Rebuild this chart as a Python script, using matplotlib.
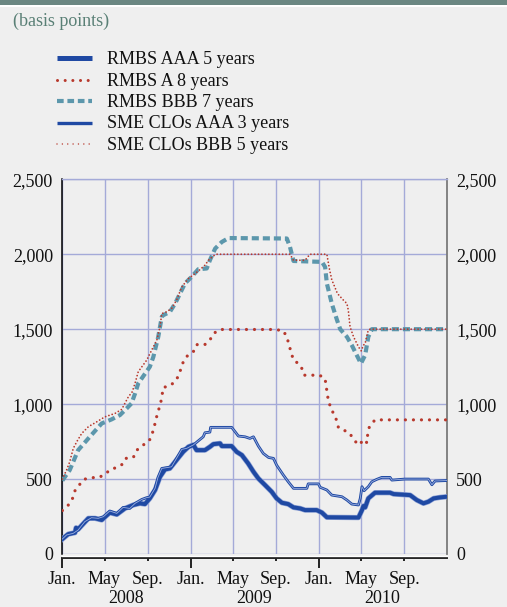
import matplotlib
matplotlib.use("Agg")
import matplotlib.pyplot as plt
import matplotlib.dates as mdates
from matplotlib.lines import Line2D
from matplotlib.patches import Rectangle
import pandas as pd

plt.rcParams['font.family'] = ['Liberation Serif', 'DejaVu Serif']

# ---------------- data (basis points) ----------------
rmbs_aaa_dates = ['2008-01-02', '2008-01-19', '2008-02-07', '2008-02-10', '2008-02-16', '2008-03-16',
                  '2008-04-04', '2008-04-23', '2008-05-16', '2008-06-05', '2008-06-28', '2008-07-22',
                  '2008-08-10', '2008-08-24', '2008-09-07', '2008-09-22', '2008-10-06', '2008-10-20',
                  '2008-11-03', '2008-11-22', '2008-12-11', '2008-12-26', '2009-01-09', '2009-01-18',
                  '2009-02-11', '2009-02-25', '2009-03-07', '2009-03-26', '2009-03-31', '2009-04-28',
                  '2009-05-12', '2009-05-27', '2009-06-14', '2009-06-29', '2009-07-13', '2009-08-01',
                  '2009-08-20', '2009-09-03', '2009-09-18', '2009-10-06', '2009-10-21', '2009-11-09',
                  '2009-11-23', '2009-12-26', '2010-01-10', '2010-01-24', '2010-04-24', '2010-05-04',
                  '2010-05-08', '2010-05-13', '2010-05-22', '2010-06-10', '2010-07-23', '2010-08-02',
                  '2010-09-18', '2010-10-07', '2010-10-26', '2010-11-09', '2010-11-24', '2010-12-13',
                  '2010-12-31']
rmbs_aaa_vals = [100, 133, 142, 175, 165, 238,
                 238, 227, 276, 264, 304, 327,
                 338, 333, 371, 427, 515, 564,
                 571, 627, 682, 715, 728, 693,
                 693, 715, 733, 738, 720, 720,
                 682, 660, 604, 549, 504, 460,
                 415, 371, 342, 333, 311, 304,
                 293, 293, 276, 245, 243, 293,
                 320, 311, 371, 409, 409, 400,
                 393, 360, 338, 349, 371, 378,
                 382]

rmbs_a_dates = ['2008-01-02', '2008-01-21', '2008-01-31', '2008-02-07', '2008-02-19', '2008-03-03',
                '2008-03-23', '2008-04-16', '2008-05-02', '2008-05-19', '2008-06-05', '2008-06-22',
                '2008-07-01', '2008-07-22', '2008-08-01', '2008-08-19', '2008-09-05', '2008-09-14',
                '2008-09-20', '2008-09-25', '2008-10-01', '2008-10-08', '2008-10-12', '2008-10-15',
                '2008-11-03', '2008-11-20', '2008-11-30', '2008-12-07', '2008-12-14', '2008-12-29',
                '2009-01-14', '2009-01-20', '2009-02-11', '2009-02-25', '2009-03-07', '2009-03-26',
                '2009-08-30', '2009-09-22', '2009-10-02', '2009-10-08', '2009-10-14', '2009-10-21',
                '2009-11-04', '2009-11-12', '2009-11-20', '2010-01-03', '2010-01-19', '2010-01-22',
                '2010-01-26', '2010-01-28', '2010-02-07', '2010-02-12', '2010-02-21', '2010-02-26',
                '2010-03-17', '2010-03-29', '2010-04-10', '2010-04-24', '2010-05-04', '2010-05-10',
                '2010-05-18', '2010-05-20', '2010-05-25', '2010-06-10', '2010-12-31']
rmbs_a_vals = [290, 331, 371, 422, 460, 498,
               509, 511, 533, 564, 578, 600,
               638, 644, 693, 727, 753, 804,
               853, 904, 953, 1009, 1060, 1111,
               1122, 1155, 1202, 1256, 1298, 1338,
               1358, 1398, 1398, 1427, 1471, 1498,
               1498, 1489, 1449, 1398, 1347, 1293,
               1271, 1250, 1193, 1193, 1171, 1115,
               1067, 1011, 975, 927, 893, 842,
               822, 809, 765, 727, 749, 765,
               742, 793, 849, 895, 895]

rmbs_bbb_dates = ['2008-01-02', '2008-01-23', '2008-02-16', '2008-03-16', '2008-04-23', '2008-05-21',
                  '2008-06-14', '2008-07-03', '2008-07-17', '2008-07-27', '2008-08-05', '2008-09-07',
                  '2008-09-17', '2008-10-01', '2008-10-11', '2008-10-15', '2008-11-03', '2008-11-18',
                  '2008-12-02', '2008-12-16', '2009-01-04', '2009-01-23', '2009-02-16', '2009-02-25',
                  '2009-03-12', '2009-03-31', '2009-04-19', '2009-10-02', '2009-10-11', '2009-10-21',
                  '2010-01-10', '2010-01-19', '2010-01-24', '2010-02-07', '2010-02-22', '2010-03-03',
                  '2010-03-22', '2010-04-05', '2010-04-19', '2010-05-01', '2010-05-13', '2010-05-22',
                  '2010-06-01', '2010-12-31']
rmbs_bbb_vals = [490, 560, 693, 771, 871, 898,
                 927, 971, 1005, 1071, 1138, 1249,
                 1315, 1449, 1582, 1593, 1615, 1671,
                 1738, 1805, 1849, 1900, 1905, 1960,
                 2038, 2082, 2108, 2105, 2049, 1955,
                 1949, 1915, 1805, 1671, 1560, 1500,
                 1449, 1393, 1327, 1271, 1327, 1449,
                 1500, 1500]

sme_aaa_dates = ['2008-01-02', '2008-01-14', '2008-02-02', '2008-02-16', '2008-03-06', '2008-03-25',
                 '2008-04-13', '2008-04-28', '2008-05-16', '2008-06-05', '2008-06-23', '2008-07-12',
                 '2008-07-27', '2008-08-15', '2008-08-29', '2008-09-07', '2008-09-22', '2008-09-30',
                 '2008-10-11', '2008-10-30', '2008-11-08', '2008-11-22', '2008-12-07', '2008-12-21',
                 '2009-01-09', '2009-02-06', '2009-02-11', '2009-02-25', '2009-02-27', '2009-04-28',
                 '2009-05-08', '2009-05-17', '2009-06-05', '2009-06-19', '2009-06-29', '2009-07-13',
                 '2009-07-27', '2009-08-11', '2009-08-25', '2009-09-03', '2009-09-22', '2009-10-06',
                 '2009-10-21', '2009-11-28', '2009-12-02', '2009-12-31', '2010-01-05', '2010-01-24',
                 '2010-02-07', '2010-03-08', '2010-03-22', '2010-04-05', '2010-04-24', '2010-04-29',
                 '2010-05-04', '2010-05-10', '2010-05-22', '2010-06-01', '2010-06-15', '2010-06-29',
                 '2010-07-23', '2010-07-28', '2010-09-03', '2010-11-09', '2010-11-19', '2010-11-28',
                 '2010-12-31']
sme_aaa_vals = [100, 127, 138, 160, 216, 242,
                238, 249, 287, 271, 311, 304,
                338, 364, 376, 380, 438, 510,
                571, 578, 582, 638, 698, 705,
                728, 782, 809, 813, 845, 845,
                815, 787, 782, 771, 782, 720,
                671, 644, 638, 593, 527, 482,
                438, 438, 468, 468, 445, 427,
                393, 382, 360, 333, 327, 371,
                449, 422, 449, 482, 498, 511,
                511, 493, 500, 500, 462, 487,
                490]

sme_bbb_dates = ['2008-01-02', '2008-01-14', '2008-01-23', '2008-01-28', '2008-02-02', '2008-02-12',
                 '2008-02-26', '2008-03-16', '2008-04-09', '2008-05-02', '2008-05-31', '2008-06-19',
                 '2008-06-28', '2008-07-08', '2008-07-19', '2008-07-27', '2008-08-05', '2008-08-29',
                 '2008-09-17', '2008-09-27', '2008-10-06', '2008-10-11', '2008-10-25', '2008-11-08',
                 '2008-11-22', '2008-12-07', '2008-12-26', '2009-01-14', '2009-01-28', '2009-02-11',
                 '2009-02-21', '2009-03-07', '2009-03-15', '2009-10-11', '2009-10-21', '2009-11-23',
                 '2009-12-07', '2010-01-24', '2010-01-31', '2010-02-07', '2010-02-23', '2010-03-08',
                 '2010-03-17', '2010-03-22', '2010-03-26', '2010-03-31', '2010-04-10', '2010-04-24',
                 '2010-05-02', '2010-05-08', '2010-05-13', '2010-05-18', '2010-05-22', '2010-05-27',
                 '2010-12-31']
sme_bbb_vals = [500, 560, 615, 660, 704, 749,
                804, 849, 882, 915, 938, 965,
                1005, 1049, 1082, 1140, 1216, 1293,
                1382, 1427, 1516, 1604, 1616, 1638,
                1693, 1782, 1838, 1871, 1898, 1927,
                1960, 1989, 2000, 2000, 1960, 1960,
                2000, 2000, 1905, 1830, 1738, 1704,
                1682, 1671, 1627, 1516, 1449, 1382,
                1355, 1393, 1404, 1460, 1493, 1500,
                1500]

series_labels = ['RMBS AAA 5 years', 'RMBS A 8 years', 'RMBS BBB 7 years',
                 'SME CLOs AAA 3 years', 'SME CLOs BBB 5 years']
y_ticks = [0, 500, 1000, 1500, 2000, 2500]
y_tick_labels = ['0', '500', '1,000', '1,500', '2,000', '2,500']
major_dates = ['2008-01-01', '2009-01-01', '2010-01-01']
major_labels = ['Jan.', 'Jan.', 'Jan.']
minor_dates = ['2008-05-01', '2008-09-01', '2009-05-01', '2009-09-01', '2010-05-01', '2010-09-01']
minor_labels = ['May', 'Sep.', 'May', 'Sep.', 'May', 'Sep.']
years = ['2008', '2009', '2010']
year_centers = ['2008-07-01', '2009-07-01', '2010-07-01']

# ---------------- styling ----------------
W, H = 507, 607
BG = '#efefef'
GRID = '#a4aad8'
BLUE = '#1f49a3'
RED = '#b8392d'
TEAL = '#5c97ac'
FS = 13

def fx(px):
    return px / W

def fy(py):
    return 1 - py / H

def d(lst):
    return mdates.date2num(pd.to_datetime(lst))

fig = plt.figure(figsize=(W / 100, H / 100), dpi=100, facecolor=BG)
ax = fig.add_axes([fx(62), fy(554), fx(447) - fx(62), fy(179.3) - fy(554)])
ax.set_facecolor(BG)

# series
ax.plot(d(rmbs_bbb_dates), rmbs_bbb_vals, color=TEAL, lw=3.0,
        linestyle=(0, (1.7, 0.95)), dash_capstyle='butt', zorder=3)
ax.plot(d(rmbs_a_dates), rmbs_a_vals, color=RED, lw=2.3,
        linestyle=(0, (0.01, 2.5)), dash_capstyle='round', zorder=4)
ax.plot(d(sme_bbb_dates), sme_bbb_vals, color=RED, lw=1.3,
        linestyle=(0, (0.01, 1.9)), dash_capstyle='round', zorder=5)
ax.plot(d(rmbs_aaa_dates), rmbs_aaa_vals, color='#8ea2d6', lw=3.8,
        solid_joinstyle='round', zorder=6)
ax.plot(d(rmbs_aaa_dates), rmbs_aaa_vals, color=BLUE, lw=2.9,
        solid_joinstyle='round', zorder=6)
ax.plot(d(sme_aaa_dates), sme_aaa_vals, color=BLUE, lw=2.0,
        solid_joinstyle='round', zorder=7)
ax.plot(d(sme_aaa_dates), sme_aaa_vals, color='#9db0e0', lw=0.6,
        solid_joinstyle='round', zorder=7)

# axes
ax.set_xlim(d(['2008-01-01'])[0], d(['2011-01-01'])[0])
ax.set_ylim(0, 2500)
ax.set_yticks(y_ticks)
ax.set_yticklabels(y_tick_labels)
ax.set_xticks(d(major_dates))
ax.set_xticklabels(major_labels)
ax.set_xticks(d(minor_dates), minor=True)
ax.set_xticklabels(minor_labels, minor=True)

ax.grid(True, axis='x', which='both', color=GRID, lw=1.0, zorder=1)
ax.grid(True, axis='y', which='major', color=GRID, lw=1.0, zorder=1)
ax.set_axisbelow(True)

ax.tick_params(axis='x', which='major', length=7.2, width=1.4, color='#222222',
               pad=1.5, labelsize=FS, labelcolor='#111111')
ax.tick_params(axis='x', which='minor', length=2.2, width=1.4, color='#222222',
               pad=6.5, labelsize=FS, labelcolor='#111111')
ax.tick_params(axis='y', which='both', length=0, labelleft=True, labelright=True,
               pad=6.5, labelsize=FS, labelcolor='#111111')

ax.spines['left'].set_color('#000000')
ax.spines['left'].set_linewidth(1.1)
ax.spines['right'].set_color('#7a7a7a')
ax.spines['right'].set_linewidth(1.3)
ax.spines['top'].set_color(GRID)
ax.spines['top'].set_linewidth(1.0)
ax.spines['bottom'].set_position(('outward', 3.2))
ax.spines['bottom'].set_color('#222222')
ax.spines['bottom'].set_linewidth(1.4)

for yr, c in zip(years, year_centers):
    ax.annotate(yr, xy=(d([c])[0], 0), xycoords=('data', 'axes fraction'),
                xytext=(0, -(603 - 554) * 0.72), textcoords='offset points',
                ha='center', va='baseline', fontsize=FS, color='#111111',
                annotation_clip=False)

# white line just under the plot area
fig.add_artist(Line2D([fx(62), fx(447)], [fy(556), fy(556)], color='white', lw=0.9))

# top banner
fig.add_artist(Rectangle((0, fy(5.3)), 1, 1 - fy(5.3), transform=fig.transFigure,
                         facecolor='#6b8782', edgecolor='none'))
fig.add_artist(Rectangle((0, fy(7.3)), 1, fy(5.3) - fy(7.3), transform=fig.transFigure,
                         facecolor='white', edgecolor='none'))

fig.text(fx(13), fy(25.5), '(basis points)', color='#5a8076', fontsize=FS, va='baseline')

# legend (proxy handles)
legend_styles = [
    dict(color=BLUE, lw=3.6, solid_capstyle='butt'),
    dict(color=RED, lw=2.2, linestyle=(0, (0.01, 2.5)), dash_capstyle='round'),
    dict(color=TEAL, lw=3.0, linestyle=(0, (1.6, 0.9)), dash_capstyle='butt'),
    dict(color=BLUE, lw=2.4, solid_capstyle='butt'),
    dict(color=RED, lw=1.1, linestyle=(0, (0.01, 3.5)), dash_capstyle='round'),
]
for i, (lab, st) in enumerate(zip(series_labels, legend_styles)):
    yc = 58.3 + i * 21.4
    fig.add_artist(Line2D([fx(57), fx(92)], [fy(yc), fy(yc)], **st))
    fig.text(fx(107), fy(yc + 5.8), lab, fontsize=FS, color='#111111', va='baseline')

fig.savefig('out.png', dpi=100, facecolor=BG)
